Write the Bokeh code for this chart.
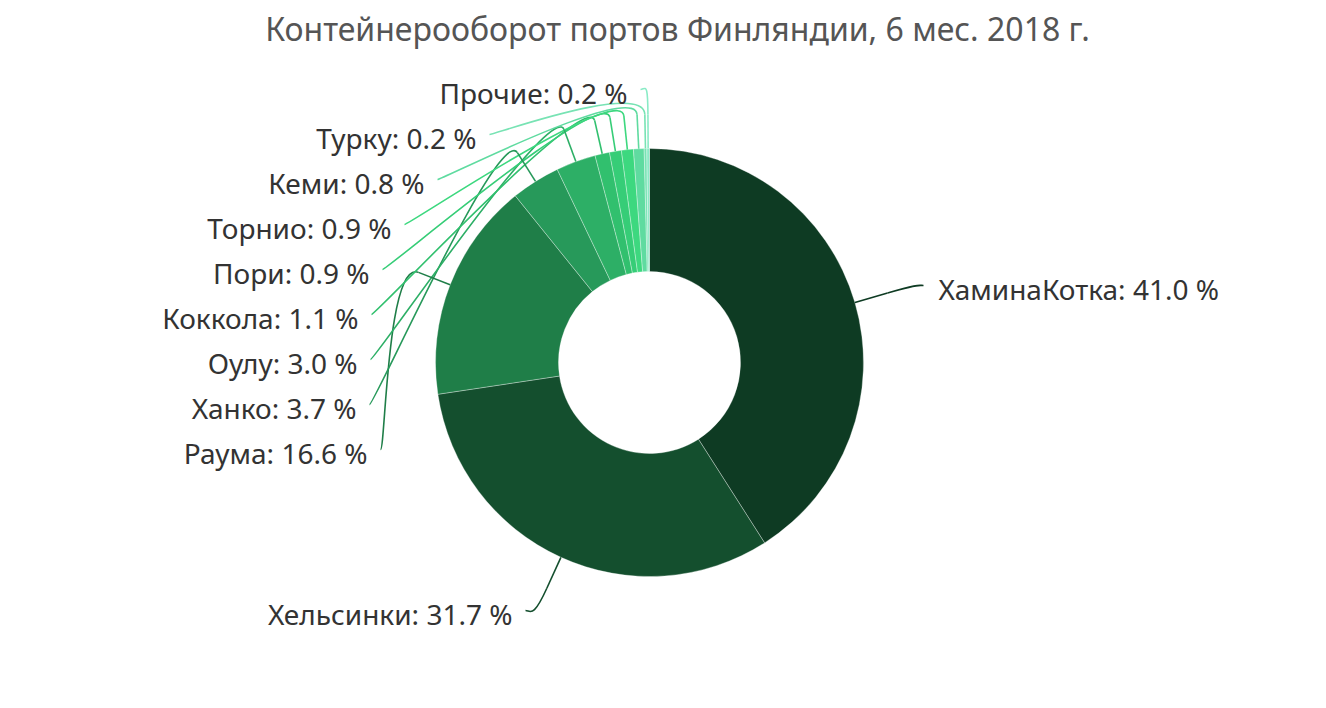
import math
from bokeh.plotting import figure
from bokeh.models import Range1d, ColumnDataSource
from bokeh.core.properties import value
from bokeh.embed import file_html
from bokeh.resources import INLINE

# ---- data ----
ports = ["ХаминаКотка", "Хельсинки", "Раума", "Ханко", "Оулу", "Коккола",
         "Пори", "Торнио", "Кеми", "Турку", "Прочие"]
shares = [41.0, 31.7, 16.6, 3.7, 3.0, 1.1, 0.9, 0.9, 0.8, 0.2, 0.2]
colors = ["#0e3b23", "#144f2e", "#1f7e48", "#27995a", "#2daf66", "#31c06e",
          "#36cd77", "#3dd87f", "#5fdba0", "#78e3b4", "#8aebc6"]
title_text = "Контейнерооборот портов Финляндии, 6 мес. 2018 г."

# ---- layout (screen pixels of the label edges) ----
label_edge_x = [938, 512, 367, 356, 357, 358, 369, 391, 424, 476, 627]
label_mid_y = [288, 613, 452, 407, 362, 317, 272, 227, 182, 137, 92]
label_side = ["right", "left", "left", "left", "left", "left", "left", "left",
              "left", "left", "left"]

W, H = 1310, 692
FONT = "Noto Sans"


def dx(X):
    return X


def dy(Y):
    return H - Y


cx, cy = dx(649), dy(362)
R_OUT, R_IN = 214, 91
OFF = 34

p = figure(width=W, height=H, output_backend="svg", toolbar_location=None,
           x_range=Range1d(0, W), y_range=Range1d(0, H), min_border=0)
p.axis.visible = False
p.grid.visible = False
p.outline_line_color = None
p.background_fill_color = "white"

total = sum(shares)
starts, ends, mids = [], [], []
acc = 0.0
for v in shares:
    f0 = acc / total
    acc += v
    f1 = acc / total
    starts.append(math.pi / 2 - 2 * math.pi * f0)
    ends.append(math.pi / 2 - 2 * math.pi * f1)
    mids.append(2 * math.pi * (f0 + f1) / 2)

src = ColumnDataSource(dict(start=starts, end=ends, color=colors))
p.annular_wedge(x=cx, y=cy, inner_radius=R_IN, outer_radius=R_OUT,
                inner_radius_units="screen", outer_radius_units="screen",
                start_angle="start", end_angle="end", direction="clock",
                fill_color="color", line_color="white", line_width=0.6,
                line_alpha=0.55, source=src)

# connectors
bx0, by0, bx1, by1, bcx0, bcy0, bcx1, bcy1 = [], [], [], [], [], [], [], []
sx0, sy0, sx1, sy1 = [], [], [], []
for i, th in enumerate(mids):
    ux, uy = math.sin(th), math.cos(th)
    P0 = (cx + R_OUT * ux, cy + R_OUT * uy)
    P1 = (cx + (R_OUT + OFF) * ux, cy + (R_OUT + OFF) * uy)
    C2 = (cx + (R_OUT + 2 * OFF) * ux, cy + (R_OUT + 2 * OFF) * uy)
    if label_side[i] == "left":
        L = (dx(label_edge_x[i] + 13), dy(label_mid_y[i] - 3))
        C1 = (L[0] + 5, L[1])
    else:
        L = (dx(label_edge_x[i] - 15), dy(label_mid_y[i] - 3))
        C1 = (L[0] - 5, L[1])
    bx0.append(L[0]); by0.append(L[1])
    bx1.append(P1[0]); by1.append(P1[1])
    bcx0.append(C1[0]); bcy0.append(C1[1])
    bcx1.append(C2[0]); bcy1.append(C2[1])
    sx0.append(P1[0]); sy0.append(P1[1])
    sx1.append(P0[0]); sy1.append(P0[1])

csrc = ColumnDataSource(dict(x0=bx0, y0=by0, x1=bx1, y1=by1, cx0=bcx0,
                             cy0=bcy0, cx1=bcx1, cy1=bcy1, color=colors))
p.bezier(x0="x0", y0="y0", x1="x1", y1="y1", cx0="cx0", cy0="cy0",
         cx1="cx1", cy1="cy1", line_color="color", line_width=1.6, source=csrc)
ssrc = ColumnDataSource(dict(x0=sx0, y0=sy0, x1=sx1, y1=sy1, color=colors))
p.segment(x0="x0", y0="y0", x1="x1", y1="y1", line_color="color",
          line_width=1.6, source=ssrc)

# labels
texts = [f"{n}: {v:.1f} %" for n, v in zip(ports, shares)]
lx = [dx(x) for x in label_edge_x]
ly = [dy(y) for y in label_mid_y]
align = ["left" if s == "right" else "right" for s in label_side]
lsrc = ColumnDataSource(dict(x=lx, y=ly, text=texts, align=align))
p.text(x="x", y="y", text="text", text_align="align", text_baseline="middle",
       text_font=value(FONT), text_font_size="28px", text_color="#333333",
       source=lsrc)

# title
p.text(x=[dx(677)], y=[dy(28)], text=[title_text], text_align="center",
       text_baseline="middle", text_font=value(FONT), text_font_size="32px",
       text_color="#555555")

open("out.html", "w").write(file_html(p, INLINE))
